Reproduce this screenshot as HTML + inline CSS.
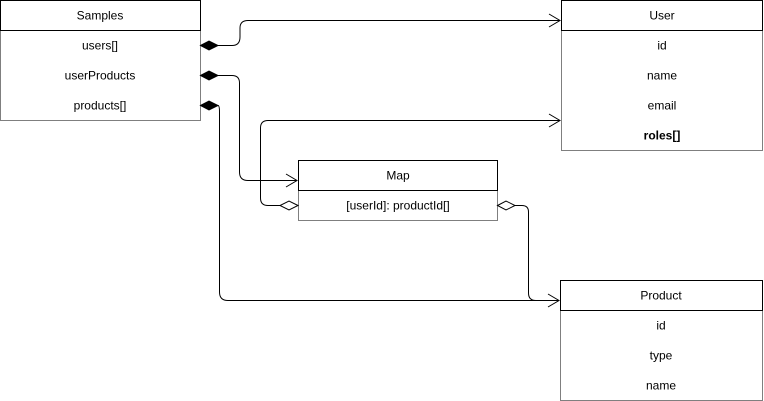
<!DOCTYPE html>
<html><head><meta charset="utf-8"><style>
html,body{margin:0;padding:0;background:#fff;width:764px;height:401px;overflow:hidden}
svg{display:block}
text{font-family:"Liberation Sans",sans-serif;font-size:12px;fill:#000}
</style></head><body>
<svg width="764" height="401" viewBox="0 0 764 401" xmlns="http://www.w3.org/2000/svg">
<!-- Samples -->
<rect x="0.5" y="30.5" width="200" height="90" fill="#fff" stroke="#7f7f7f"/>
<rect x="0.5" y="0.5" width="200" height="30" fill="#fff" stroke="#000"/>
<text x="100" y="19.5" text-anchor="middle">Samples</text>
<text x="100" y="49.5" text-anchor="middle">users[]</text>
<text x="100" y="79.5" text-anchor="middle">userProducts</text>
<text x="100" y="109.5" text-anchor="middle">products[]</text>
<!-- User -->
<rect x="561.5" y="30.5" width="201" height="120" fill="#fff" stroke="#7f7f7f"/>
<rect x="561.5" y="0.5" width="201" height="30" fill="#fff" stroke="#000"/>
<text x="662" y="19.5" text-anchor="middle">User</text>
<text x="662" y="49.5" text-anchor="middle">id</text>
<text x="662" y="79.5" text-anchor="middle">name</text>
<text x="662" y="109.5" text-anchor="middle">email</text>
<text x="662" y="139.5" text-anchor="middle" font-weight="bold">roles[]</text>
<!-- Map -->
<rect x="298.5" y="190.5" width="199" height="30" fill="#fff" stroke="#7f7f7f"/>
<rect x="298.5" y="160.5" width="199" height="30" fill="#fff" stroke="#000"/>
<text x="398" y="179.5" text-anchor="middle">Map</text>
<text x="398" y="209.5" text-anchor="middle">[userId]: productId[]</text>
<!-- Product -->
<rect x="560.5" y="310.5" width="202" height="90" fill="#fff" stroke="#7f7f7f"/>
<rect x="560.5" y="280.5" width="202" height="30" fill="#fff" stroke="#000"/>
<text x="661" y="299.5" text-anchor="middle">Product</text>
<text x="661" y="329.5" text-anchor="middle">id</text>
<text x="661" y="359.5" text-anchor="middle">type</text>
<text x="661" y="389.5" text-anchor="middle">name</text>
<!-- connectors -->
<g fill="none" stroke="#000" stroke-width="1">
<path d="M218 45.5 H232 Q240 45.5 240 37 V28 Q240 20.5 248 20.5 H560"/>
<path d="M549 14 L560 20.5 L549 27"/>
<path d="M218 75.5 H232 Q239.5 75.5 239.5 83 V172 Q239.5 180.5 248 180.5 H297"/>
<path d="M286 174 L297 180.5 L286 187"/>
<path d="M218 105.5 Q219.5 105.5 219.5 112 V292 Q219.5 300.5 228 300.5 H559"/>
<path d="M548 294 L559 300.5 L548 307"/>
<path d="M280 205.5 H268 Q260.5 205.5 260.5 198 V128 Q260.5 120.5 268 120.5 H560"/>
<path d="M549 114 L560 120.5 L549 127"/>
<path d="M515 205.5 H522 Q528.5 205.5 528.5 212 V293 Q528.5 300.5 536 300.5"/>
</g>
<g stroke="#000" stroke-width="1">
<path d="M200.5 45.5 L209 41 L218 45.5 L209 50 Z" fill="#000"/>
<path d="M200.5 75.5 L209 71 L218 75.5 L209 80 Z" fill="#000"/>
<path d="M200.5 105.5 L209 101 L218 105.5 L209 110 Z" fill="#000"/>
<path d="M298 205.5 L289 201 L280 205.5 L289 210 Z" fill="#fff"/>
<path d="M497.5 205.5 L506 201 L515 205.5 L506 210 Z" fill="#fff"/>
</g>
</svg>
</body></html>
